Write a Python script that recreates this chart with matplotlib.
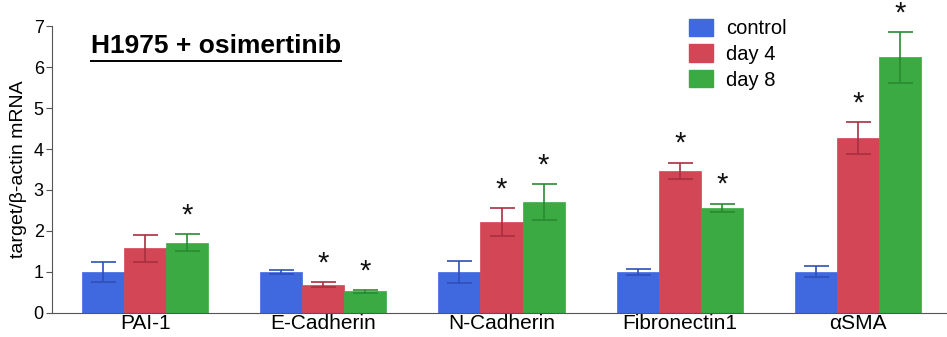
import numpy as np
import matplotlib
matplotlib.use('Agg')
import matplotlib.pyplot as plt
from matplotlib.patches import Patch

plt.rcParams['font.family'] = ['Liberation Sans', 'DejaVu Sans']

genes = ['PAI-1', 'E-Cadherin', 'N-Cadherin', 'Fibronectin1', 'αSMA']
groups = ['control', 'day 4', 'day 8']

control = [1.0, 1.0, 1.0, 1.0, 1.0]
control_err = [0.25, 0.05, 0.27, 0.07, 0.13]
day4 = [1.57, 0.69, 2.21, 3.47, 4.27]
day4_err = [0.34, 0.06, 0.34, 0.20, 0.39]
day8 = [1.71, 0.52, 2.70, 2.56, 6.24]
day8_err = [0.21, 0.03, 0.44, 0.10, 0.62]

# significance marks: (group index, gene index)
stars = [(2, 0), (1, 1), (2, 1), (1, 2), (2, 2), (1, 3), (2, 3), (1, 4), (2, 4)]

colors = ['#4169DF', '#D24656', '#3BAA42']
err_colors = ['#2F4FB8', '#A83040', '#2A8A32']

fig = plt.figure(figsize=(9.47, 3.37), dpi=100)
ax = fig.add_axes([0.055, 0.072, 0.945, 0.85])

x = np.arange(len(genes))
w = 0.236
means = [control, day4, day8]
errs = [control_err, day4_err, day8_err]
for i in range(3):
    pos = x + (i - 1) * w
    ax.bar(pos, means[i], w, color=colors[i], edgecolor=colors[i], linewidth=0.5,
           label=groups[i], zorder=2)
    ax.errorbar(pos, means[i], yerr=errs[i], fmt='none', ecolor=err_colors[i],
                elinewidth=1.2, capsize=9, capthick=1.2, zorder=3)

for g, k in stars:
    xp = x[k] + (g - 1) * w
    top = means[g][k] + errs[g][k]
    ax.text(xp, top + 0.12, '*', ha='center', va='bottom', fontsize=21, color='#111111')

ax.set_xlim(-0.522, 4.5)
ax.set_ylim(0, 7)
ax.set_yticks(range(8))
ax.tick_params(axis='y', labelsize=13, length=4, color='#555555', pad=2)
ax.set_xticks(x)
ax.set_xticklabels(genes, fontsize=15)
ax.tick_params(axis='x', length=0, pad=1)
ax.set_ylabel('target/β-actin mRNA', fontsize=14, labelpad=5)

for s in ['top', 'right']:
    ax.spines[s].set_visible(False)
ax.spines['left'].set_color('#555555')
ax.spines['bottom'].set_color('#555555')

t = ax.text(0.043, 0.93, 'H1975 + osimertinib', transform=ax.transAxes,
            fontsize=19, fontweight='bold', va='center', ha='left')
fig.canvas.draw()
bb = t.get_window_extent().transformed(fig.transFigure.inverted())
fig.add_artist(plt.Line2D([bb.x0, bb.x1], [bb.y0 - 0.008, bb.y0 - 0.008],
                          transform=fig.transFigure, color='black', linewidth=1.4))

handles = [Patch(facecolor=c, edgecolor=c) for c in colors]
ax.legend(handles, groups, loc='upper left', bbox_to_anchor=(0.692, 1.09),
          frameon=False, fontsize=14.5, handlelength=1.15, handleheight=0.95,
          handletextpad=0.65, labelspacing=0.3)

fig.savefig('out.png', dpi=100)
